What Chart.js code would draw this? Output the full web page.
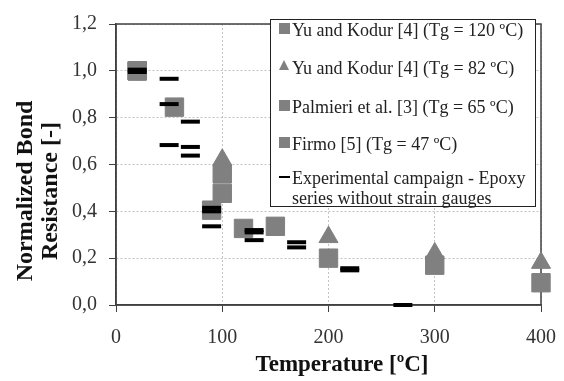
<!DOCTYPE html>
<html>
<head>
<meta charset="utf-8">
<script src="https://cdn.jsdelivr.net/npm/chart.js@4/dist/chart.umd.min.js"></script>
<style>
  html, body { margin: 0; padding: 0; background: #fff; }
  #wrap { position: relative; width: 564px; height: 381px; font-family: "Liberation Serif", "Times New Roman", serif; color: #222; }
  #chart { position: absolute; left: 0; top: 0; }
  .axis-title { position: absolute; font-weight: bold; font-size: 23px; text-align: center; white-space: nowrap; color: #111; }
  #ytitle { left: -73px; top: 166px; width: 220px; height: 50px; line-height: 25px; transform: rotate(-90deg); font-size: 24px; }
  #xtitle { left: 192px; top: 351px; width: 300px; line-height: 26px; }
  #legend { position: absolute; left: 270px; top: 19px; width: 266px; height: 188px; box-sizing: border-box; border: 1px solid #222; background: #fff; }
  .lg-text { position: absolute; left: 21px; font-size: 18px; line-height: 20px; white-space: nowrap; }
  .lg-sq { position: absolute; left: 8px; width: 11px; height: 11px; background: #808080; }
  .lg-tri { position: absolute; left: 8px; width: 0; height: 0; border-left: 5.5px solid transparent; border-right: 5.5px solid transparent; border-bottom: 10px solid #808080; }
  .lg-dash { position: absolute; left: 8px; width: 11px; height: 2px; background: #000; }
</style>
</head>
<body>
<div id="wrap">
  <canvas id="chart" width="564" height="381"></canvas>
  <div id="ytitle" class="axis-title">Normalized Bond<br>Resistance [-]</div>
  <div id="xtitle" class="axis-title">Temperature [ºC]</div>
  <div id="legend">
    <span class="lg-sq" style="top:3px"></span>
    <span class="lg-text" style="top:0px">Yu and Kodur [4] (Tg = 120 ºC)</span>
    <span class="lg-tri" style="top:40px"></span>
    <span class="lg-text" style="top:38px">Yu and Kodur [4] (Tg = 82 ºC)</span>
    <span class="lg-sq" style="top:80px"></span>
    <span class="lg-text" style="top:77px">Palmieri et al. [3] (Tg = 65 ºC)</span>
    <span class="lg-sq" style="top:117px"></span>
    <span class="lg-text" style="top:114px">Firmo [5] (Tg = 47 ºC)</span>
    <span class="lg-dash" style="top:156px"></span>
    <span class="lg-text" style="top:148px">Experimental campaign - Epoxy<br>series without strain gauges</span>
  </div>
</div>
<script>
// Temperature [ºC] / normalized bond resistance pairs per source
const yuKodur120T = [20, 100, 200, 300, 400];
const yuKodur120R = [1.0, 0.56, 0.20, 0.17, 0.095];

const yuKodur82T = [100, 200, 300, 400];
const yuKodur82R = [0.62, 0.29, 0.22, 0.18];

const palmieriT = [20, 55, 90];
const palmieriR = [1.0, 0.845, 0.405];

const firmoT = [20, 100, 120, 150];
const firmoR = [1.0, 0.477, 0.327, 0.336];

// epoxy series without strain gauges (this campaign)
const epoxyT = [20, 20, 50, 50, 50, 70, 70, 70, 90, 90, 90, 130, 130, 130, 170, 170, 220, 220, 270];
const epoxyR = [1.005, 0.995, 0.966, 0.858, 0.683, 0.783, 0.675, 0.638, 0.415, 0.40, 0.336, 0.32, 0.31, 0.277, 0.268, 0.246, 0.157, 0.148, 0.0];

const xTickLabels = ["0", "100", "200", "300", "400"];
const yTickLabels = ["0,0", "0,2", "0,4", "0,6", "0,8", "1,0", "1,2"];

const GREY = "#808080";
const AXIS = "#404040";
const SERIF = "'Liberation Serif', 'Times New Roman', serif";

const pts = (xs, ys) => xs.map((x, i) => ({ x, y: ys[i] }));

// dark frame round the plot area, under the markers
const frame = {
  id: "frame",
  beforeDatasetsDraw(chart) {
    const { ctx, chartArea: a } = chart;
    ctx.save();
    ctx.strokeStyle = AXIS;
    ctx.lineWidth = 1.5;
    ctx.strokeRect(a.left, a.top, a.right - a.left, a.bottom - a.top);
    ctx.restore();
  },
};

const square = { pointStyle: "rect", pointRadius: 13, pointBorderWidth: 1, backgroundColor: GREY, borderColor: GREY, clip: false };

function draw() {
  Chart.defaults.font.family = SERIF;
  new Chart(document.getElementById("chart"), {
    type: "scatter",
    data: {
      datasets: [
        // index 0 is drawn last, so the dashes sit on top
        { label: "Experimental campaign - Epoxy series without strain gauges", data: pts(epoxyT, epoxyR),
          pointStyle: "line", pointRadius: 9.5, pointBorderWidth: 4, borderColor: "#000", backgroundColor: "#000", clip: false },
        { label: "Yu and Kodur [4] (Tg = 120 ºC)", data: pts(yuKodur120T, yuKodur120R), ...square },
        { label: "Palmieri et al. [3] (Tg = 65 ºC)", data: pts(palmieriT, palmieriR), ...square },
        { label: "Firmo [5] (Tg = 47 ºC)", data: pts(firmoT, firmoR), ...square },
        { label: "Yu and Kodur [4] (Tg = 82 ºC)", data: pts(yuKodur82T, yuKodur82R),
          pointStyle: "triangle", pointRadius: 11, pointBorderWidth: 1, backgroundColor: GREY, borderColor: GREY, clip: false },
      ],
    },
    options: {
      responsive: false,
      animation: false,
      devicePixelRatio: 1,
      events: [],
      layout: { padding: { left: 0, right: 23, top: 15, bottom: 0 } },
      plugins: { legend: { display: false }, tooltip: { enabled: false } },
      scales: {
        x: {
          type: "linear", min: 0, max: 400,
          // fixed axis band; the layout padding already leaves room for the end labels
          afterFit: (s) => { s.height = 76; s.paddingLeft = 0; s.paddingRight = 0; },
          ticks: { stepSize: 100, padding: 14, minRotation: 0, maxRotation: 0, color: "#333", font: { family: SERIF, size: 20 }, callback: (v, i) => xTickLabels[i] },
          grid: { color: "#c4c4c4", lineWidth: 1, tickLength: 7, tickColor: AXIS, tickBorderDash: [] },
          border: { color: AXIS, width: 1.5, dash: [2, 2] },
        },
        y: {
          min: 0, max: 1.2,
          afterFit: (s) => { s.width = 116; },
          ticks: { stepSize: 0.2, padding: 12, color: "#333", font: { family: SERIF, size: 20 }, callback: (v, i) => yTickLabels[i] },
          grid: { color: "#c4c4c4", lineWidth: 1, tickLength: 7, tickColor: AXIS, tickBorderDash: [] },
          border: { color: AXIS, width: 1.5, dash: [2, 2] },
        },
      },
    },
    plugins: [frame],
  });
}

// make sure the serif face is ready before the canvas text is laid out
document.fonts.load("20px 'Liberation Serif'").then(draw, draw);
</script>
</body>
</html>
